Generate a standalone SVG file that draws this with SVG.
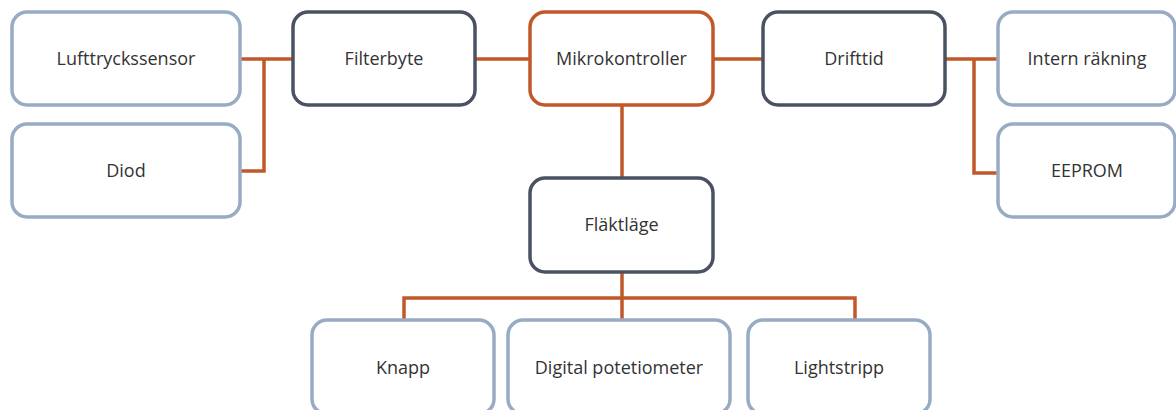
<svg xmlns="http://www.w3.org/2000/svg" width="1176" height="410" viewBox="0 0 1176 410">
<style>
.box{fill:#fff;stroke-width:3.5}
.lt{stroke:#98abc4}
.dk{stroke:#4a5262}
.or{stroke:#c1582a}
.lbl{font-family:"Open Sans","Noto Sans",sans-serif;font-size:18px;fill:#333;text-anchor:middle}
.con{fill:none;stroke:#c1582a;stroke-width:3.5}
</style>
<rect width="1176" height="410" fill="#fff"/>
<g id="connectors" class="con">
<path d="M240 59H293M264 59V171H240"/>
<path d="M475 59H530"/>
<path d="M713 59H763"/>
<path d="M945 59H998M974 59V173H998"/>
<path d="M622 105V178"/>
<path d="M622 272V320M404 320V298H855V320"/>
</g>
<g id="n-lufttryckssensor"><rect class="box lt" x="12" y="12" width="228" height="93" rx="15"/><text class="lbl" x="126" y="65">Lufttryckssensor</text></g>
<g id="n-diod"><rect class="box lt" x="12" y="124" width="228" height="93" rx="15"/><text class="lbl" x="126" y="177">Diod</text></g>
<g id="n-filterbyte"><rect class="box dk" x="293" y="12" width="182" height="93" rx="15"/><text class="lbl" x="384" y="65">Filterbyte</text></g>
<g id="n-mikrokontroller"><rect class="box or" x="530" y="12" width="183" height="93" rx="15"/><text class="lbl" x="621.5" y="65">Mikrokontroller</text></g>
<g id="n-drifttid"><rect class="box dk" x="763" y="12" width="182" height="93" rx="15"/><text class="lbl" x="854" y="65">Drifttid</text></g>
<g id="n-intern"><rect class="box lt" x="998" y="12" width="177" height="93" rx="15"/><text class="lbl" x="1087" y="65">Intern räkning</text></g>
<g id="n-eeprom"><rect class="box lt" x="998" y="124" width="177" height="93" rx="15"/><text class="lbl" x="1087" y="177">EEPROM</text></g>
<g id="n-flaktlage"><rect class="box dk" x="530" y="178" width="183" height="94" rx="15"/><text class="lbl" x="621.5" y="231">Fläktläge</text></g>
<g id="n-knapp"><rect class="box lt" x="312" y="320" width="182" height="94" rx="15"/><text class="lbl" x="403" y="374">Knapp</text></g>
<g id="n-digital"><rect class="box lt" x="508" y="320" width="222" height="94" rx="15"/><text class="lbl" x="619" y="374">Digital potetiometer</text></g>
<g id="n-lightstripp"><rect class="box lt" x="748" y="320" width="182" height="94" rx="15"/><text class="lbl" x="839" y="374">Lightstripp</text></g>
</svg>
